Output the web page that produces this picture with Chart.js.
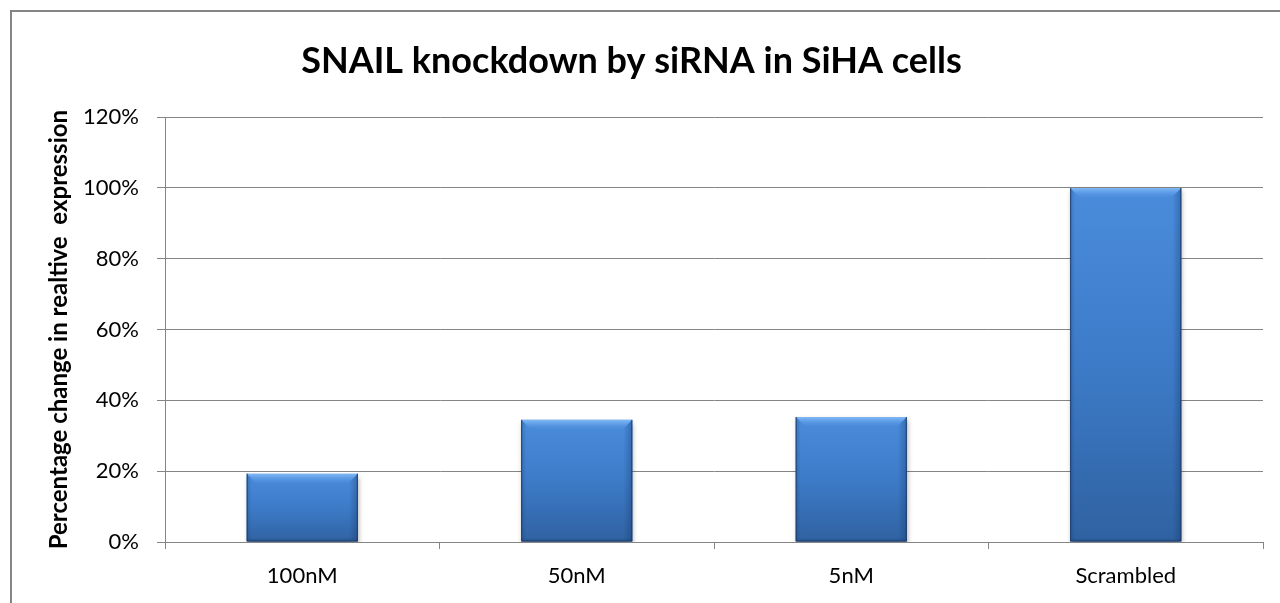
<!DOCTYPE html>
<html>
<head>
<meta charset="utf-8">
<script src="https://cdn.jsdelivr.net/npm/chart.js@4"></script>
<style>
  html, body { margin: 0; padding: 0; background: #fff; }
  #wrap { width: 1280px; height: 603px; }
</style>
</head>
<body>
<div id="wrap"><canvas id="myChart" width="1280" height="603"></canvas></div>
<script>
let labels = ['100nM', '50nM', '5nM', 'Scrambled']
let expression = [19.3, 34.5, 35.3, 100]
let yTicks = [0, 20, 40, 60, 80, 100, 120]

const GRID = '#858585'
const FONT = 'Lato, "Open Sans", sans-serif'

// per-bar vertical gradient, lighter on top
const barFill = c => {
    const chart = c.chart
    if (!chart.chartArea) return '#3f7fcf'
    const y = chart.scales.y
    const top = y.getPixelForValue(c.raw)
    const bottom = y.getPixelForValue(0)
    const g = chart.ctx.createLinearGradient(0, top, 0, bottom)
    g.addColorStop(0, '#4a8cdb')
    g.addColorStop(0.5, '#3d7bc8')
    g.addColorStop(1, '#2f62a1')
    return g
}

// outer frame + soft shadow + bevel on the bars
const frame = {
    id: 'frame',
    beforeDraw(chart) {
        const ctx = chart.ctx
        ctx.save()
        ctx.strokeStyle = GRID
        ctx.lineWidth = 2
        ctx.beginPath()
        ctx.moveTo(11, chart.height + 2)
        ctx.lineTo(11, 11)
        ctx.lineTo(chart.width + 2, 11)
        ctx.stroke()
        ctx.restore()
    },
    beforeDatasetsDraw(chart) {
        const ctx = chart.ctx
        ctx.save()
        ctx.shadowColor = 'rgba(0,0,0,0.35)'
        ctx.shadowBlur = 5
        ctx.shadowOffsetX = 1
        ctx.shadowOffsetY = 3
    },
    afterDatasetsDraw(chart) {
        const ctx = chart.ctx
        ctx.restore()
        const b = 9
        chart.getDatasetMeta(0).data.forEach(bar => {
            const l = bar.x - bar.width / 2, r = bar.x + bar.width / 2
            const t = bar.y, btm = bar.base
            ctx.save()
            // top bevel
            let g = ctx.createLinearGradient(0, t, 0, t + b)
            g.addColorStop(0, 'rgba(150,200,255,0.75)')
            g.addColorStop(0.4, 'rgba(120,180,245,0.55)')
            g.addColorStop(1, 'rgba(90,150,230,0.15)')
            ctx.fillStyle = g
            ctx.beginPath()
            ctx.moveTo(l, t); ctx.lineTo(r, t); ctx.lineTo(r - b, t + b); ctx.lineTo(l + b, t + b)
            ctx.closePath(); ctx.fill()
            // right bevel
            g = ctx.createLinearGradient(r - b, 0, r, 0)
            g.addColorStop(0, 'rgba(20,50,100,0)')
            g.addColorStop(1, 'rgba(20,50,100,0.35)')
            ctx.fillStyle = g
            ctx.beginPath()
            ctx.moveTo(r, t); ctx.lineTo(r, btm); ctx.lineTo(r - b, btm - 3); ctx.lineTo(r - b, t + b)
            ctx.closePath(); ctx.fill()
            // left bevel
            g = ctx.createLinearGradient(l, 0, l + 5, 0)
            g.addColorStop(0, 'rgba(20,50,100,0.25)')
            g.addColorStop(1, 'rgba(20,50,100,0)')
            ctx.fillStyle = g
            ctx.beginPath()
            ctx.moveTo(l, t); ctx.lineTo(l + b, t + b); ctx.lineTo(l + 5, btm - 3); ctx.lineTo(l, btm)
            ctx.closePath(); ctx.fill()
            // bottom edge
            g = ctx.createLinearGradient(0, btm - 4, 0, btm)
            g.addColorStop(0, 'rgba(20,50,100,0)')
            g.addColorStop(1, 'rgba(20,50,100,0.3)')
            ctx.fillStyle = g
            ctx.fillRect(l, btm - 4, r - l, 4)
            // dark outline on sides and bottom
            ctx.strokeStyle = 'rgba(25,55,100,0.85)'
            ctx.lineWidth = 1
            ctx.beginPath()
            ctx.moveTo(l + 0.5, t); ctx.lineTo(l + 0.5, btm - 0.5); ctx.lineTo(r - 0.5, btm - 0.5); ctx.lineTo(r - 0.5, t)
            ctx.stroke()
            ctx.restore()
        })
    }
}

let ctx = document.getElementById('myChart').getContext('2d')

let chart = new Chart(ctx, {
    type: 'bar',
    data: {
        labels: labels,
        datasets: [{
            label: 'SNAIL',
            data: expression,
            backgroundColor: barFill,
            borderWidth: 0,
            barPercentage: 1,
            categoryPercentage: 0.405,
        }]
    },
    plugins: [frame],
    options: {
        responsive: false,
        animation: false,
        layout: {
            padding: { left: 0, right: 17, top: 0, bottom: 0 }
        },
        plugins: {
            legend: { display: false },
            tooltip: { enabled: false },
            title: {
                display: true,
                text: 'SNAIL knockdown by siRNA in SiHA cells',
                color: '#000',
                font: { family: FONT, size: 36, weight: 'bold', lineHeight: 1.2 },
                padding: { top: 40, bottom: 34 }
            }
        },
        scales: {
            x: {
                grid: {
                    offset: true,
                    drawOnChartArea: false,
                    drawTicks: true,
                    tickLength: 7,
                    color: GRID,
                },
                border: { color: GRID, width: 1 },
                ticks: {
                    color: '#000',
                    font: { family: FONT, size: 22 },
                    padding: 14,
                },
                afterFit: s => { s.height = 61 }
            },
            y: {
                min: 0,
                max: 120,
                afterBuildTicks: s => { s.ticks = yTicks.map(v => ({ value: v })) },
                grid: {
                    color: GRID,
                    tickLength: 8,
                },
                border: { color: GRID, width: 1 },
                ticks: {
                    color: '#000',
                    font: { family: FONT, size: 22 },
                    padding: 18,
                    callback: v => v + '%'
                },
                title: {
                    display: true,
                    text: 'Percentage change in realtive  expression',
                    color: '#000',
                    font: { family: FONT, size: 24, weight: 'bold', lineHeight: 1.2 },
                    padding: { top: 45, bottom: 0 }
                },
                afterFit: s => { s.width = 165 }
            }
        }
    }
});
</script>
</body>
</html>
